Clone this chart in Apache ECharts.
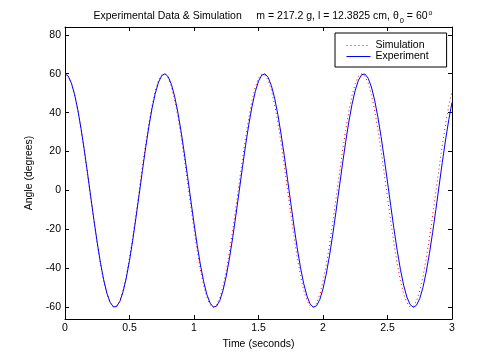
<!DOCTYPE html>
<html>
<head>
<meta charset="utf-8">
<script src="https://cdn.jsdelivr.net/npm/echarts@6/dist/echarts.min.js"></script>
<style>
html,body{margin:0;padding:0;background:#fff;}
#chart{width:500px;height:360px;}
</style>
</head>
<body>
<div id="chart"></div>
<script>
var time = [
0,0.025,0.05,0.075,0.1,0.125,0.15,0.175,0.2,0.225,
0.25,0.275,0.3,0.325,0.35,0.375,0.4,0.425,0.45,0.475,
0.5,0.525,0.55,0.575,0.6,0.625,0.65,0.675,0.7,0.725,
0.75,0.775,0.8,0.825,0.85,0.875,0.9,0.925,0.95,0.975,
1,1.025,1.05,1.075,1.1,1.125,1.15,1.175,1.2,1.225,
1.25,1.275,1.3,1.325,1.35,1.375,1.4,1.425,1.45,1.475,
1.5,1.525,1.55,1.575,1.6,1.625,1.65,1.675,1.7,1.725,
1.75,1.775,1.8,1.825,1.85,1.875,1.9,1.925,1.95,1.975,
2,2.025,2.05,2.075,2.1,2.125,2.15,2.175,2.2,2.225,
2.25,2.275,2.3,2.325,2.35,2.375,2.4,2.425,2.45,2.475,
2.5,2.525,2.55,2.575,2.6,2.625,2.65,2.675,2.7,2.725,
2.75,2.775,2.8,2.825,2.85,2.875,2.9,2.925,2.95,2.975,
3
];
var experiment = [
60.00,58.76,55.10,49.17,41.20,31.52,20.57,8.76,-3.42,-15.45,
-26.84,-37.14,-45.89,-52.76,-57.44,-59.76,-59.61,-57.00,-52.04,-44.94,
-35.97,-25.53,-14.03,-1.95,10.20,21.94,32.77,42.26,49.99,55.66,
59.04,59.98,58.45,54.50,48.31,40.12,30.29,19.19,7.31,-4.88,
-16.85,-28.15,-38.26,-46.82,-53.44,-57.85,-59.87,-59.43,-56.53,-51.30,
-43.95,-34.79,-24.20,-12.60,-0.49,11.64,23.30,33.98,43.29,50.79,
56.19,59.28,59.93,58.10,53.87,47.43,39.02,29.01,17.80,5.85,
-6.33,-18.26,-29.43,-39.38,-47.71,-54.09,-58.22,-59.95,-59.21,-56.02,
-50.53,-42.94,-33.59,-22.85,-11.17,0.97,13.08,24.64,35.18,44.29,
51.55,56.69,59.49,59.84,57.72,53.21,46.52,37.90,27.72,16.39,
4.39,-7.79,-19.65,-30.71,-40.48,-48.59,-54.71,-58.56,-59.99,-58.95,
-55.48,-49.73,-41.91,-32.38,-21.49,-9.73,2.44,14.50,25.97,36.36,
45.26
];
var simulation = [
60.00,58.75,55.04,49.03,40.97,31.19,20.12,8.21,-4.05,-16.14,
-27.56,-37.83,-46.50,-53.24,-57.76,-59.85,-59.45,-56.57,-51.32,-43.92,
-34.69,-24.01,-12.32,-0.12,12.08,23.78,34.49,43.76,51.19,56.49,
59.42,59.87,57.82,53.35,46.66,38.01,27.77,16.38,4.30,-7.96,
-19.89,-30.99,-40.78,-48.88,-54.94,-58.70,-60.00,-58.79,-55.13,-49.17,
-41.15,-31.41,-20.36,-8.45,3.80,15.90,27.34,37.63,46.34,53.12,
57.69,59.84,59.49,56.65,51.44,44.09,34.89,24.23,12.56,0.37,
-11.84,-23.55,-34.28,-43.59,-51.06,-56.40,-59.38,-59.89,-57.89,-53.47,
-46.79,-38.20,-27.99,-16.61,-4.54,7.72,19.65,30.77,40.61,48.75,
54.84,58.65,60.00,58.84,55.23,49.32,41.33,31.61,20.59,8.70,
-3.56,-15.66,-27.12,-37.44,-46.18,-53.01,-57.62,-59.82,-59.52,-56.73,
-51.58,-44.26,-35.08,-24.46,-12.81,-0.62,11.60,23.33,34.07,43.42,
50.92
];
var yTicks = [-60, -40, -20, 0, 20, 40, 60, 80];
var seriesNames = ['Simulation', 'Experiment'];
var titleMain = 'Experimental Data & Simulation     m = 217.2 g, l = 12.3825 cm, \u03b8';
var titleTail = ' = 60';
var xName = 'Time (seconds)';
var yName = 'Angle (degrees)';

var FONT = 'Liberation Sans';
var FS = 10.5;
var RED = '#ff0000';
var BLUE = '#0000ff';

function pairs(vals) {
  return time.map(function (t, i) { return [t, vals[i]]; });
}

var chart = echarts.init(document.getElementById('chart'), null, {renderer: 'canvas'});

var xBase = {
  type: 'value', min: 0, max: 3, interval: 0.5,
  axisLine: {show: true, onZero: false, lineStyle: {color: '#000', width: 1}},
  axisTick: {show: true, inside: true, length: 4, lineStyle: {color: '#000'}},
  splitLine: {show: false}
};
var yBase = {
  type: 'value', min: -66, max: 84,
  axisLine: {show: true, onZero: false, lineStyle: {color: '#000', width: 1}},
  axisTick: {show: true, inside: true, length: 4, customValues: yTicks, lineStyle: {color: '#000'}},
  splitLine: {show: false}
};

var option = {
  animation: false,
  backgroundColor: '#fff',
  title: {
    text: '{a|' + titleMain + '}{sub|0}{a|' + titleTail + '}{sup|o}',
    left: 258, top: 3, textAlign: 'center',
    textStyle: {
      fontWeight: 'normal',
      rich: {
        a: {fontFamily: FONT, fontSize: FS, fontWeight: 'normal', color: '#000'},
        sub: {fontFamily: FONT, fontSize: 7.5, fontWeight: 'normal', color: '#000', padding: [9, 0, 0, 1]},
        sup: {fontFamily: FONT, fontSize: 7, fontWeight: 'normal', color: '#000', padding: [0, 0, 7, 1]}
      }
    }
  },
  legend: {
    orient: 'vertical', left: 335, top: 33,
    padding: [7, 18, 5, 11],
    itemGap: 0, itemWidth: 24, itemHeight: 11,
    borderColor: '#000', borderWidth: 1, borderRadius: 0,
    backgroundColor: '#fff',
    data: [
      {name: seriesNames[0], lineStyle: {color: RED, width: 1, type: [1, 3]}},
      {name: seriesNames[1], lineStyle: {color: BLUE, width: 1, type: 'solid'}}
    ],
    itemStyle: {opacity: 0},
    lineStyle: {width: 1},
    textStyle: {fontFamily: FONT, fontSize: FS, color: '#000', lineHeight: 11}
  },
  grid: {left: 65, right: 48, top: 27, bottom: 41, containLabel: false},
  xAxis: [
    Object.assign({}, xBase, {
      position: 'bottom',
      name: xName, nameLocation: 'middle', nameGap: 18,
      nameTextStyle: {fontFamily: FONT, fontSize: FS, color: '#000'},
      axisLabel: {show: true, margin: 4, fontFamily: FONT, fontSize: FS, color: '#000'}
    }),
    Object.assign({}, xBase, {position: 'top', axisLabel: {show: false}})
  ],
  yAxis: [
    Object.assign({}, yBase, {
      position: 'left',
      name: yName, nameLocation: 'middle', nameGap: 25,
      nameTextStyle: {fontFamily: FONT, fontSize: FS, color: '#000'},
      axisLabel: {show: true, margin: 4, customValues: yTicks, fontFamily: FONT, fontSize: FS, color: '#000'}
    }),
    Object.assign({}, yBase, {position: 'right', axisLabel: {show: false}})
  ],
  series: [
    {
      name: seriesNames[0], type: 'line', xAxisIndex: 0, yAxisIndex: 0,
      data: pairs(simulation), showSymbol: false, symbol: 'none',
      lineStyle: {color: RED, width: 1, type: [1, 3]},
      itemStyle: {color: RED}, clip: true, z: 2
    },
    {
      name: seriesNames[1], type: 'line', xAxisIndex: 0, yAxisIndex: 0,
      data: pairs(experiment), showSymbol: false, symbol: 'none',
      lineStyle: {color: BLUE, width: 1},
      itemStyle: {color: BLUE}, clip: true, z: 3
    }
  ]
};
chart.setOption(option);
</script>
</body>
</html>
